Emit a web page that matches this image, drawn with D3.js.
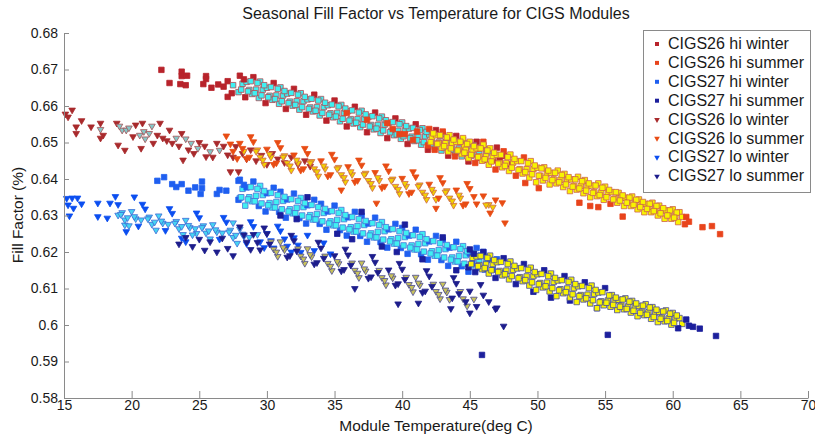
<!DOCTYPE html>
<html>
<head>
<meta charset="utf-8">
<script src="https://cdn.jsdelivr.net/npm/d3@7"></script>
<style>
  body { margin: 0; background: #fff; }
  text { font-family: "Liberation Sans", Arial, sans-serif; fill: #1a1a1a; }
</style>
</head>
<body>
<svg id="chart" width="815" height="436"></svg>
<script>
// [module temperature (deg C), fill factor]
const cigs26HiWinter = [
  [22.2,.6699],[22.8,.6663],[23.7,.6694],[23.7,.6682],[24.1,.6683],[23.6,.6660],[24.0,.6657],[25.5,.6682],[25.5,.6674],
  [25.3,.6660],[25.9,.6650],[26.4,.6659],[27.1,.6668],[27.5,.6657],[27.1,.6625],[27.4,.6635],[26.8,.6653],
  [28.0,.6683],[28.2,.6661],[27.9,.6638],[28.5,.6666],[28.7,.6644],[28.4,.6624],[29.0,.6679],[29.2,.6645],[28.9,.6633],
  [29.5,.6667],[29.7,.6645],[29.4,.6622],[30.0,.6650],[30.2,.6628],[29.9,.6608],[30.5,.6663],[30.7,.6629],[30.4,.6617],
  [31.0,.6651],[31.2,.6629],[30.9,.6606],[31.5,.6634],[31.7,.6612],[31.4,.6592],[32.0,.6647],[32.2,.6613],[31.9,.6601],
  [32.5,.6635],[32.7,.6613],[32.4,.6590],[33.0,.6618],[33.2,.6596],[32.9,.6576],[33.5,.6631],[33.7,.6597],[33.4,.6585],
  [34.0,.6619],[34.2,.6597],[33.9,.6574],[34.5,.6602],[34.7,.6580],[34.4,.6560],[35.0,.6615],[35.2,.6581],[34.9,.6569],
  [35.5,.6603],[35.7,.6581],[35.4,.6558],[36.0,.6586],[36.2,.6564],[35.9,.6544],[36.5,.6598],[36.7,.6564],[36.4,.6552],
  [37.0,.6587],[37.2,.6565],[36.9,.6542],[37.5,.6570],[37.7,.6548],[37.4,.6528],[38.0,.6582],[38.2,.6548],[37.9,.6536],
  [38.5,.6571],[38.7,.6549],[38.4,.6526],[39.0,.6554],[39.2,.6532],[38.9,.6512],[39.5,.6566],[39.7,.6532],[39.4,.6520],
  [40.0,.6555],[40.2,.6533],[39.9,.6510],[40.5,.6538],[40.7,.6516],[40.4,.6496],[41.0,.6550],[41.2,.6516],[40.9,.6504],
  [41.5,.6539],[41.7,.6517],[41.4,.6494],[42.0,.6522],[42.2,.6500],[41.9,.6480],[42.5,.6534],[42.7,.6500],[42.4,.6488],
  [43.0,.6523],[43.2,.6501],[42.9,.6478],[43.5,.6506],[43.7,.6484],[43.4,.6464],[44.0,.6518],[44.2,.6484],[43.9,.6472],
  [44.5,.6507],[44.7,.6485],[44.4,.6462],[45.0,.6490],[45.2,.6468],[44.9,.6448],[45.5,.6502],[45.7,.6468],
  [46.0,.6491],[46.2,.6469],[46.5,.6473],[46.7,.6451],[47.0,.6486],[47.2,.6452],[47.5,.6463],[48.0,.6440],
  [28.3,.6673],[28.1,.6645],[28.8,.6668],[28.6,.6640],[29.3,.6663],[29.1,.6635],[29.8,.6657],[29.6,.6629],
  [30.3,.6652],[30.1,.6624],[30.8,.6647],[30.6,.6619],[31.3,.6641],[31.1,.6613],[31.8,.6636],[31.6,.6608],
  [32.3,.6631],[32.1,.6603],[32.8,.6625],[32.6,.6597],[33.3,.6620],[33.1,.6592],[33.8,.6615],[33.6,.6587],
  [34.3,.6609],[34.1,.6581],[34.8,.6604],[34.6,.6576],[35.3,.6599],[35.1,.6571],[35.8,.6593],[35.6,.6565],
  [36.3,.6588],[36.1,.6560],[36.8,.6582],[36.6,.6554],[37.3,.6577],[37.1,.6549],[37.8,.6572],[37.6,.6544],
  [38.3,.6566],[38.1,.6538],[38.8,.6561],[38.6,.6533],[39.3,.6556],[39.1,.6528],[39.8,.6550],[39.6,.6522],
  [40.3,.6545],[40.1,.6517],[40.8,.6540],[40.6,.6512],[41.3,.6534],[41.1,.6506],[41.8,.6529],[41.6,.6501],
  [42.3,.6524],[42.1,.6496],[42.8,.6518],[42.6,.6490],[43.3,.6513],[43.1,.6485],[43.8,.6508],[43.6,.6480],
  [44.3,.6502],[44.1,.6474],[44.8,.6497],[44.6,.6469],[45.3,.6492],[45.1,.6464],[45.8,.6486],[45.6,.6458],
  [46.3,.6481],[46.1,.6453]
]
const cigs26HiSummer = [
  [35.9,.6581],[37.4,.6562],[38.9,.6553],[39.3,.6537],[39.8,.6523],[40.2,.6523],[41.1,.6530],[40.8,.6507],[43.8,.6507],
  [44.6,.6490],[46.0,.6502],[49.1,.6389],[50.1,.6375],[53.1,.6335],[53.9,.6326],[54.5,.6323],[56.3,.6297],
  [62.2,.6268],[62.9,.6271],[63.5,.6249],
  [42.0,.6537],[42.2,.6515],[41.9,.6492],[42.5,.6520],[42.7,.6498],[42.4,.6480],[43.0,.6530],[43.2,.6498],[42.9,.6486],
  [43.5,.6520],[43.7,.6498],[43.4,.6475],[44.0,.6502],[44.2,.6480],[43.9,.6462],[44.5,.6512],[44.7,.6480],[44.4,.6468],
  [45.0,.6502],[45.2,.6480],[44.9,.6457],[45.5,.6484],[45.7,.6462],[45.4,.6444],[46.0,.6494],[46.2,.6462],[45.9,.6450],
  [46.5,.6484],[46.7,.6462],[46.4,.6439],[47.0,.6466],[47.2,.6444],[46.9,.6426],[47.5,.6476],[47.7,.6444],[47.4,.6432],
  [48.0,.6467],[48.2,.6445],[47.9,.6422],[48.5,.6449],[48.7,.6427],[48.4,.6409],[49.0,.6459],[49.2,.6427],[48.9,.6415],
  [49.5,.6449],[49.7,.6427],[49.4,.6404],[50.0,.6431],[50.2,.6409],[49.9,.6391],[50.5,.6432],[50.7,.6415],[50.4,.6396],
  [51.0,.6417],[51.2,.6399],[50.9,.6385],[51.5,.6423],[51.7,.6398],[51.4,.6388],[52.0,.6414],[52.2,.6397],[51.9,.6378],
  [52.5,.6399],[52.7,.6381],[52.4,.6367],[53.0,.6406],[53.2,.6381],[52.9,.6371],[53.5,.6397],[53.7,.6380],[53.4,.6361],
  [54.0,.6382],[54.2,.6364],[53.9,.6350],[54.5,.6388],[54.7,.6363],[54.4,.6353],[55.0,.6379],[55.2,.6362],[54.9,.6343],
  [55.5,.6364],[55.7,.6346],[55.4,.6332],[56.0,.6362],[56.2,.6349],[55.9,.6335],[56.5,.6349],[56.7,.6336],[56.4,.6326],
  [57.0,.6352],[57.2,.6334],[56.9,.6326],[57.5,.6344],[57.7,.6331],[57.4,.6317],[58.0,.6332],[58.2,.6319],[57.9,.6309],
  [58.5,.6335],[58.7,.6317],[58.4,.6309],[59.0,.6327],[59.2,.6314],[58.9,.6300],[59.5,.6314],[59.7,.6301],[59.4,.6291],
  [60.0,.6317],[60.2,.6299],[59.9,.6291],[60.5,.6309],[60.7,.6296],[60.4,.6282],[61.0,.6296],[61.2,.6283],[60.9,.6276],
  [42.3,.6525],[42.1,.6501],[42.8,.6520],[42.6,.6496],[43.3,.6514],[43.1,.6490],[43.8,.6508],[43.6,.6484],
  [44.3,.6502],[44.1,.6478],[44.8,.6496],[44.6,.6472],[45.3,.6490],[45.1,.6466],[45.8,.6484],[45.6,.6460],
  [46.3,.6478],[46.1,.6454],[46.8,.6472],[46.6,.6448],[47.3,.6466],[47.1,.6442],[47.8,.6460],[47.6,.6436],
  [48.3,.6455],[48.1,.6431],[48.8,.6449],[48.6,.6425],[49.3,.6443],[49.1,.6419],[49.8,.6437],[49.6,.6413],
  [50.3,.6429],[50.1,.6409],[50.8,.6423],[50.6,.6403],[51.3,.6417],[51.1,.6397],[51.8,.6411],[51.6,.6391],
  [52.3,.6405],[52.1,.6385],[52.8,.6399],[52.6,.6379],[53.3,.6394],[53.1,.6374],[53.8,.6388],[53.6,.6368],
  [54.3,.6382],[54.1,.6362],[54.8,.6376],[54.6,.6356],[55.3,.6370],[55.1,.6350],[55.8,.6364],[55.6,.6344],
  [56.3,.6355],[56.1,.6341],[56.8,.6349],[56.6,.6335],[57.3,.6343],[57.1,.6329],[57.8,.6337],[57.6,.6323],
  [58.3,.6332],[58.1,.6318],[58.8,.6326],[58.6,.6312],[59.3,.6320],[59.1,.6306],[59.8,.6314],[59.6,.6300],
  [60.3,.6308],[60.1,.6294]
]
const cigs27HiWinter = [
  [21.9,.6395],[22.4,.6405],[23.0,.6386],[23.3,.6378],[23.7,.6386],[24.2,.6368],[24.7,.6377],[25.2,.6393],[25.2,.6375],
  [25.1,.6359],[26.3,.6359],[26.5,.6370],[27.0,.6368],[27.9,.6395],[28.0,.6348],
  [28.0,.6398],[28.2,.6373],[27.9,.6343],[28.5,.6377],[28.7,.6350],[28.4,.6327],[29.0,.6393],[29.2,.6354],[28.9,.6339],
  [29.5,.6381],[29.7,.6356],[29.4,.6326],[30.0,.6361],[30.2,.6334],[29.9,.6311],[30.5,.6376],[30.7,.6337],[30.4,.6322],
  [31.0,.6365],[31.2,.6340],[30.9,.6310],[31.5,.6344],[31.7,.6317],[31.4,.6294],[32.0,.6360],[32.2,.6321],[31.9,.6306],
  [32.5,.6348],[32.7,.6323],[32.4,.6293],[33.0,.6328],[33.2,.6301],[32.9,.6278],[33.5,.6343],[33.7,.6304],[33.4,.6289],
  [34.0,.6332],[34.2,.6307],[33.9,.6277],[34.5,.6311],[34.7,.6284],[34.4,.6261],[35.0,.6327],[35.2,.6288],[34.9,.6273],
  [35.5,.6315],[35.7,.6290],[35.4,.6260],[36.0,.6295],[36.2,.6268],[35.9,.6245],[36.5,.6310],[36.7,.6271],[36.4,.6256],
  [37.0,.6299],[37.2,.6274],[36.9,.6244],[37.5,.6278],[37.7,.6251],[37.4,.6228],[38.0,.6294],[38.2,.6255],[37.9,.6240],
  [38.5,.6282],[38.7,.6257],[38.4,.6227],[39.0,.6262],[39.2,.6235],[38.9,.6212],[39.5,.6277],[39.7,.6238],[39.4,.6223],
  [40.0,.6266],[40.2,.6241],[39.9,.6211],[40.5,.6245],[40.7,.6218],[40.4,.6195],[41.0,.6261],[41.2,.6222],[40.9,.6207],
  [41.5,.6249],[41.7,.6224],[41.4,.6194],[42.0,.6229],[42.2,.6202],[41.9,.6179],[42.5,.6244],[42.7,.6205],[42.4,.6190],
  [43.0,.6233],[43.2,.6208],[42.9,.6178],[43.5,.6212],[43.7,.6185],[43.4,.6162],[44.0,.6228],[44.2,.6189],[43.9,.6174],
  [44.5,.6216],[44.7,.6191],[44.4,.6161],[45.0,.6196],[45.2,.6169],[44.9,.6146],[45.5,.6211],[45.7,.6172],
  [46.0,.6200],[46.2,.6175],[46.5,.6179],[46.7,.6152],[47.0,.6180],[47.5,.6143],
  [28.3,.6384],[28.1,.6350],[28.8,.6378],[28.6,.6344],[29.3,.6373],[29.1,.6339],[29.8,.6367],[29.6,.6333],
  [30.3,.6362],[30.1,.6328],[30.8,.6356],[30.6,.6322],[31.3,.6351],[31.1,.6317],[31.8,.6345],[31.6,.6311],
  [32.3,.6340],[32.1,.6306],[32.8,.6334],[32.6,.6300],[33.3,.6329],[33.1,.6295],[33.8,.6323],[33.6,.6289],
  [34.3,.6318],[34.1,.6284],[34.8,.6312],[34.6,.6278],[35.3,.6307],[35.1,.6273],[35.8,.6301],[35.6,.6267],
  [36.3,.6296],[36.1,.6262],[36.8,.6290],[36.6,.6256],[37.3,.6285],[37.1,.6251],[37.8,.6279],[37.6,.6245],
  [38.3,.6274],[38.1,.6240],[38.8,.6268],[38.6,.6234],[39.3,.6263],[39.1,.6229],[39.8,.6257],[39.6,.6223],
  [40.3,.6252],[40.1,.6218],[40.8,.6246],[40.6,.6212],[41.3,.6241],[41.1,.6207],[41.8,.6235],[41.6,.6201],
  [42.3,.6230],[42.1,.6196],[42.8,.6224],[42.6,.6190],[43.3,.6219],[43.1,.6185],[43.8,.6213],[43.6,.6179],
  [44.3,.6208],[44.1,.6174],[44.8,.6202],[44.6,.6168],[45.3,.6197],[45.1,.6163],[45.8,.6191],[45.6,.6157],
  [46.3,.6186],[46.1,.6152]
]
const cigs27HiSummer = [
  [31.0,.6300],[32.2,.6290],[33.0,.6350],[35.2,.6250],[36.3,.6235],[37.0,.6310],[38.5,.6215],[39.6,.6200],[40.2,.6275],
  [41.5,.6180],[43.0,.6240],[44.0,.6150],[45.9,.5918],[49.7,.6091],[51.0,.6075],[52.4,.6067],[54.4,.6046],[55.2,.5973],
  [61.5,.5995],[62.0,.5990],[63.2,.5970],
  [45.0,.6207],[45.2,.6184],[44.9,.6158],[45.5,.6188],[45.7,.6164],[45.4,.6145],[46.0,.6200],[46.2,.6166],[45.9,.6153],
  [46.5,.6190],[46.7,.6167],[46.4,.6141],[47.0,.6172],[47.2,.6148],[46.9,.6129],[47.5,.6183],[47.7,.6149],[47.4,.6136],
  [48.0,.6174],[48.2,.6151],[47.9,.6125],[48.5,.6155],[48.7,.6131],[48.4,.6112],[49.0,.6167],[49.2,.6133],[48.9,.6120],
  [49.5,.6157],[49.7,.6134],[49.4,.6108],[50.0,.6139],[50.2,.6115],[49.9,.6096],[50.5,.6150],[50.7,.6116],[50.4,.6103],
  [51.0,.6141],[51.2,.6118],[50.9,.6092],[51.5,.6122],[51.7,.6098],[51.4,.6079],[52.0,.6134],[52.2,.6100],[51.9,.6087],
  [52.5,.6124],[52.7,.6101],[52.4,.6075],[53.0,.6106],[53.2,.6082],[52.9,.6063],[53.5,.6117],[53.7,.6083],[53.4,.6070],
  [54.0,.6108],[54.2,.6085],[53.9,.6059],[54.5,.6089],[54.7,.6065],[54.4,.6046],[55.0,.6101],[55.2,.6067],[54.9,.6054],
  [55.5,.6082],[55.7,.6067],[55.4,.6050],[56.0,.6069],[56.2,.6053],[55.9,.6041],[56.5,.6073],[56.7,.6051],[56.4,.6043],
  [57.0,.6066],[57.2,.6051],[56.9,.6034],[57.5,.6052],[57.7,.6036],[57.4,.6024],[58.0,.6057],[58.2,.6035],[57.9,.6027],
  [58.5,.6049],[58.7,.6034],[58.4,.6017],[59.0,.6036],[59.2,.6020],[58.9,.6008],[59.5,.6040],[59.7,.6018],[59.4,.6010],
  [60.0,.6033],[60.2,.6018],[59.9,.6001],[60.5,.6019],[60.7,.6003],[60.4,.5991],[61.0,.6015],[61.2,.5998],
  [45.3,.6195],[45.1,.6167],[45.8,.6189],[45.6,.6161],[46.3,.6184],[46.1,.6156],[46.8,.6178],[46.6,.6150],
  [47.3,.6173],[47.1,.6145],[47.8,.6167],[47.6,.6139],[48.3,.6162],[48.1,.6134],[48.8,.6156],[48.6,.6128],
  [49.3,.6151],[49.1,.6123],[49.8,.6145],[49.6,.6117],[50.3,.6140],[50.1,.6112],[50.8,.6134],[50.6,.6106],
  [51.3,.6129],[51.1,.6101],[51.8,.6123],[51.6,.6095],[52.3,.6118],[52.1,.6090],[52.8,.6112],[52.6,.6084],
  [53.3,.6107],[53.1,.6079],[53.8,.6101],[53.6,.6073],[54.3,.6096],[54.1,.6068],[54.8,.6090],[54.6,.6062],
  [55.3,.6081],[55.1,.6061],[55.8,.6075],[55.6,.6055],[56.3,.6070],[56.1,.6050],[56.8,.6064],[56.6,.6044],
  [57.3,.6059],[57.1,.6039],[57.8,.6053],[57.6,.6033],[58.3,.6048],[58.1,.6028],[58.8,.6042],[58.6,.6022],
  [59.3,.6037],[59.1,.6017],[59.8,.6031],[59.6,.6011],[60.3,.6026],[60.1,.6006]
]
const cigs26LoWinter = [
  [15.1,.6578],[15.6,.6589],[15.3,.6570],[15.9,.6543],[15.9,.6525],[16.3,.6560],[17.0,.6543],[17.7,.6553],[17.7,.6536],
  [17.7,.6512],[17.9,.6520],[18.9,.6553],[19.0,.6493],[19.5,.6479],[19.3,.6534],[19.6,.6534],[20.1,.6516],[20.8,.6553],
  [20.9,.6530],[20.7,.6484],[21.6,.6498],[22.1,.6553],[22.3,.6512],[22.8,.6534],[23.0,.6498],[23.7,.6525],[23.8,.6452],
  [24.4,.6498],[24.9,.6484],[25.5,.6461],[26.3,.6498],[26.5,.6479],[27.1,.6466],[27.7,.6489],[27.3,.6420],[27.9,.6420],
  [19.1,.6545],[19.8,.6540],[20.3,.6548],[20.6,.6520],[21.0,.6510],[21.3,.6525],[21.5,.6545],[21.9,.6520],[22.6,.6505],
  [23.3,.6512],[23.5,.6490],[24.0,.6510],[24.2,.6480],[24.6,.6470],[25.0,.6500],[25.4,.6490],[25.8,.6475],[26.0,.6460],
  [26.8,.6490],[27.5,.6460],[28.2,.6470],[28.5,.6455],[28.8,.6480],[29.2,.6450],[29.6,.6465],[30.0,.6440],[30.4,.6470],
  [30.8,.6455],[31.3,.6445],[31.8,.6460],[32.3,.6440],[32.8,.6450],[33.2,.6435]
]
const cigs26LoSummer = [
  [27.0,.6518],[27.3,.6496],[27.5,.6476],[27.8,.6456],[28.0,.6498],[28.3,.6476],[28.5,.6456],[28.8,.6516],
  [29.0,.6502],[29.3,.6480],[29.5,.6460],[29.8,.6440],[30.0,.6482],[30.3,.6460],[30.5,.6440],[30.8,.6500],
  [31.0,.6486],[31.3,.6464],[31.5,.6444],[31.8,.6424],[32.0,.6466],[32.3,.6444],[32.5,.6424],[32.8,.6484],
  [33.0,.6470],[33.3,.6448],[33.5,.6428],[33.8,.6408],[34.0,.6450],[34.3,.6428],[34.5,.6408],[34.8,.6468],
  [35.0,.6454],[35.3,.6432],[35.5,.6412],[35.8,.6392],[36.0,.6434],[36.3,.6412],[36.5,.6392],[36.8,.6452],
  [37.0,.6438],[37.3,.6416],[37.5,.6396],[37.8,.6376],[38.0,.6418],[38.3,.6396],[38.5,.6376],[38.8,.6436],
  [39.0,.6422],[39.3,.6400],[39.5,.6380],[39.8,.6360],[40.0,.6402],[40.3,.6380],[40.5,.6360],[40.8,.6420],
  [41.0,.6406],[41.3,.6384],[41.5,.6364],[41.8,.6344],[42.0,.6386],[42.3,.6364],[42.5,.6344],[42.8,.6404],
  [43.0,.6390],[43.3,.6368],[43.5,.6348],[43.8,.6328],[44.0,.6370],[44.3,.6348],[44.5,.6328],[44.8,.6388],
  [45.0,.6374],[45.3,.6352],[45.5,.6332],[46.0,.6354],[46.4,.6330],
  [28.2,.6484],[28.7,.6460],[29.2,.6476],[29.7,.6452],[30.2,.6468],[30.7,.6444],[31.2,.6460],[31.7,.6436],
  [32.2,.6452],[32.7,.6428],[33.2,.6444],[33.7,.6420],[34.2,.6436],[34.7,.6412],[35.2,.6428],[35.7,.6404],
  [36.2,.6420],[36.7,.6396],[37.2,.6412],[37.7,.6388],[38.2,.6404],[38.7,.6380],[39.2,.6396],[39.7,.6372],
  [40.2,.6388],[40.7,.6364],[41.2,.6380],[41.7,.6356],[42.2,.6372],[42.7,.6348],[43.2,.6364],[43.7,.6340],
  [44.2,.6356],[44.7,.6332],
  [38.1,.6334],[46.2,.6329],[46.7,.6323],[46.5,.6307],[47.6,.6280],[46.9,.6343],[47.4,.6335],[35.5,.6370],[42.5,.6320]
]
const cigs27LoWinter = [
  [15.2,.6347],[15.6,.6348],[16.0,.6348],[15.3,.6329],[15.7,.6320],[15.4,.6299],[16.3,.6332],[17.5,.6334],[17.5,.6297],
  [18.2,.6293],[18.4,.6334],[18.8,.6352],[19.0,.6301],[19.5,.6274],[19.6,.6256],[20.2,.6351],[23.7,.6238],[24.0,.6228],
  [24.8,.6251],[27.5,.6280],
  [19.0,.6330],[19.3,.6308],[19.5,.6288],[19.8,.6272],[20.0,.6311],[20.3,.6291],[20.5,.6271],[20.8,.6331],
  [21.0,.6318],[21.3,.6296],[21.5,.6276],[21.8,.6260],[22.0,.6299],[22.3,.6279],[22.5,.6259],[22.8,.6319],
  [23.0,.6306],[23.3,.6284],[23.5,.6264],[23.8,.6248],[24.0,.6287],[24.3,.6267],[24.5,.6247],[24.8,.6307],
  [25.0,.6294],[25.3,.6272],[25.5,.6252],[25.8,.6236],[26.0,.6275],[26.3,.6255],[26.5,.6235],[26.8,.6295],
  [27.0,.6282],[27.3,.6260],[27.5,.6240],[27.8,.6224],[28.0,.6263],[28.3,.6243],[28.5,.6223],[28.8,.6283],
  [29.0,.6270],[29.3,.6248],[29.5,.6228],[29.8,.6212],[30.0,.6251],[30.3,.6231],[30.5,.6211],[30.8,.6271],
  [31.0,.6258],[31.3,.6236],[31.5,.6216],[31.8,.6200],[32.0,.6239],[32.3,.6219],[32.5,.6199],[33.0,.6246],
  [33.5,.6204],[34.2,.6225],[34.7,.6195],
  [19.2,.6303],[19.7,.6294],[20.2,.6297],[20.7,.6288],[21.2,.6291],[21.7,.6282],[22.2,.6285],[22.7,.6276],
  [23.2,.6279],[23.7,.6270],[24.2,.6273],[24.7,.6264],[25.2,.6267],[25.7,.6258],[26.2,.6261],[26.7,.6252],
  [27.2,.6255],[27.7,.6246],[28.2,.6249],[28.7,.6240]
]
const cigs27LoSummer = [
  [24.0,.6240],[24.5,.6215],[25.0,.6235],[25.4,.6205],[25.8,.6228],[26.3,.6200],[26.7,.6238],[27.1,.6210],[27.5,.6190],
  [23.5,.6222],
  [28.0,.6269],[28.3,.6247],[28.5,.6227],[28.8,.6207],[29.0,.6248],[29.3,.6226],[29.5,.6206],[29.8,.6266],
  [30.0,.6250],[30.3,.6228],[30.5,.6208],[30.8,.6188],[31.0,.6228],[31.3,.6206],[31.5,.6186],[31.8,.6246],
  [32.0,.6231],[32.3,.6209],[32.5,.6189],[32.8,.6169],[33.0,.6209],[33.3,.6187],[33.5,.6167],[33.8,.6227],
  [34.0,.6211],[34.3,.6189],[34.5,.6169],[34.8,.6149],[35.0,.6190],[35.3,.6168],[35.5,.6148],[35.8,.6208],
  [36.0,.6192],[36.3,.6170],[36.5,.6150],[36.8,.6130],[37.0,.6170],[37.3,.6148],[37.5,.6128],[37.8,.6188],
  [38.0,.6172],[38.3,.6150],[38.5,.6130],[38.8,.6110],[39.0,.6151],[39.3,.6129],[39.5,.6109],[39.8,.6169],
  [40.0,.6153],[40.3,.6131],[40.5,.6111],[40.8,.6091],[41.0,.6131],[41.3,.6109],[41.5,.6089],[41.8,.6149],
  [42.0,.6134],[42.3,.6112],[42.5,.6092],[42.8,.6072],[43.0,.6112],[43.3,.6090],[43.5,.6070],[43.8,.6130],
  [44.0,.6114],[44.3,.6092],[44.5,.6072],[44.8,.6052],[45.0,.6093],[45.3,.6071],[45.5,.6051],[45.8,.6111],
  [46.0,.6082],[46.4,.6064],[46.9,.6044],
  [30.2,.6222],[30.7,.6200],[31.2,.6212],[31.7,.6190],[32.2,.6203],[32.7,.6181],[33.2,.6193],[33.7,.6171],
  [34.2,.6183],[34.7,.6161],[35.2,.6174],[35.7,.6152],[36.2,.6164],[36.7,.6142],[37.2,.6154],[37.7,.6132],
  [38.2,.6144],[38.7,.6122],[39.2,.6135],[39.7,.6113],[40.2,.6125],[40.7,.6103],[41.2,.6115],[41.7,.6093],
  [42.2,.6106],[42.7,.6084],[43.2,.6096],[43.7,.6074],[44.2,.6086],[44.7,.6064],
  [39.7,.6058],[45.0,.6033],[47.0,.6047],[47.5,.5997],[36.5,.6100],[41.2,.6060],[43.6,.6045]
]

const seriesNames = ['CIGS26 hi winter', 'CIGS26 hi summer', 'CIGS27 hi winter', 'CIGS27 hi summer',
  'CIGS26 lo winter', 'CIGS26 lo summer', 'CIGS27 lo winter', 'CIGS27 lo summer']
const seriesData = [cigs26HiWinter, cigs26HiSummer, cigs27HiWinter, cigs27HiSummer,
  cigs26LoWinter, cigs26LoSummer, cigs27LoWinter, cigs27LoSummer]
const xTicks = [15, 20, 25, 30, 35, 40, 45, 50, 55, 60, 65, 70]
const yTicks = [0.58, 0.59, 0.6, 0.61, 0.62, 0.63, 0.64, 0.65, 0.66, 0.67, 0.68]

// styling per series (edge colour, marker, face used where points pile up)
const edgeColors = ['#b8232b', '#e8441c', '#1f5ff0', '#1c1f9c', '#a82a2c', '#e84c14', '#0b4ef0', '#1d1d8c']
const shapes = ['s', 's', 's', 's', 'v', 'v', 'v', 'v']
const coreFill = ['#3ff0f2', '#f8f400', '#3ff0f2', '#f8f400', '#86c8c8', '#f2d000', '#46d4f2', '#c8c25a']

const svg = d3.select('#chart')
const x = d3.scaleLinear().domain([15, 70]).range([64, 808])
const y = d3.scaleLinear().domain([0.58, 0.68]).range([398, 33])

const square = d3.symbol().type(d3.symbolSquare).size(30)
const tri = d3.symbol().type(d3.symbolTriangle).size(19)

const plot = svg.append('g')

seriesData.forEach((pts, i) => {
  const px = pts.map(d => [x(d[0]), y(d[1])])
  // crowded points get the lighter face colour, stray ones stay solid
  const crowd = px.map(p => px.filter(q => Math.hypot(p[0] - q[0], p[1] - q[1]) < 10).length - 1)
  const lim = shapes[i] === 's' ? 6 : 4
  const softEdge = d3.interpolateRgb(edgeColors[i], '#9a9aa2')(0.35)
  plot.append('g')
    .selectAll('path')
    .data(pts)
    .enter()
    .append('path')
    .attr('d', shapes[i] === 's' ? square : tri)
    .attr('transform', d => shapes[i] === 's'
      ? 'translate(' + x(d[0]) + ',' + y(d[1]) + ')'
      : 'translate(' + x(d[0]) + ',' + y(d[1]) + ') rotate(180)')
    .attr('fill', (d, k) => crowd[k] >= lim ? coreFill[i] : edgeColors[i])
    .attr('stroke', (d, k) => crowd[k] >= lim ? softEdge : edgeColors[i])
    .attr('stroke-width', 0.8)
})

// axes, matlab style: only left and bottom, ticks pointing in
const axisColor = '#8a8a8a'
const xAxis = svg.append('g').attr('transform', 'translate(0,398)')
  .call(d3.axisBottom(x).tickValues(xTicks).tickSize(-7).tickPadding(2).tickSizeOuter(0).tickFormat(d3.format('d')))
const yAxis = svg.append('g').attr('transform', 'translate(64,0)')
  .call(d3.axisLeft(y).tickValues(yTicks).tickSize(-5).tickPadding(6).tickSizeOuter(0).tickFormat(d => String(+d.toFixed(2))))
;[xAxis, yAxis].forEach(a => {
  a.select('.domain').attr('stroke', axisColor)
  a.selectAll('.tick line').attr('stroke', axisColor)
  a.selectAll('.tick text').style('font-size', '14px').attr('fill', '#1a1a1a')
})

svg.append('text').attr('x', 436).attr('y', 19).attr('text-anchor', 'middle')
  .style('font-size', '16px').text('Seasonal Fill Factor vs Temperature for CIGS Modules')
svg.append('text').attr('x', 436).attr('y', 431).attr('text-anchor', 'middle')
  .style('font-size', '15.5px').text('Module Temperature(deg C)')
svg.append('text').attr('transform', 'translate(23,215) rotate(-90)').attr('text-anchor', 'middle')
  .style('font-size', '15.5px').text('Fill Factor (%)')

// legend
const legend = svg.append('g')
legend.append('rect').attr('x', 643.5).attr('y', 30.5).attr('width', 167).attr('height', 162)
  .attr('fill', '#fff').attr('stroke', '#8a8a8a')
seriesNames.forEach((name, i) => {
  const cy = 44 + i * 18.9
  legend.append('path')
    .attr('d', d3.symbol().type(shapes[i] === 's' ? d3.symbolSquare : d3.symbolTriangle).size(shapes[i] === 's' ? 16 : 14))
    .attr('transform', 'translate(657,' + cy + ')' + (shapes[i] === 's' ? '' : ' rotate(180)'))
    .attr('fill', edgeColors[i])
  legend.append('text').attr('x', 668).attr('y', cy + 5)
    .style('font-size', '16px').text(name)
})
</script>
</body>
</html>
